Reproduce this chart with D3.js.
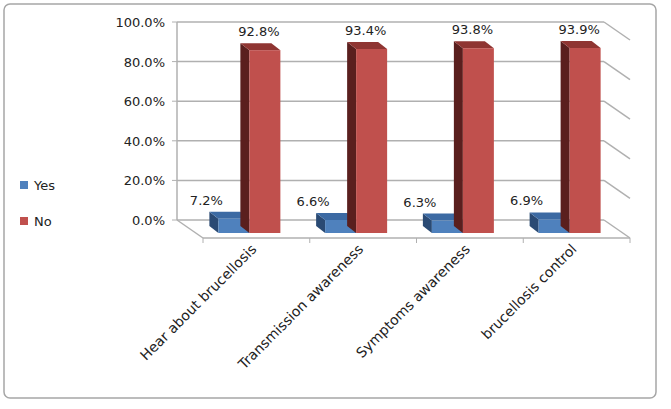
<!DOCTYPE html>
<html><head><meta charset="utf-8">
<script src="https://cdn.jsdelivr.net/npm/d3@7"></script>
<style>body{margin:0;background:#fff;font-family:"DejaVu Sans",sans-serif;}</style>
</head><body><div id="chart"></div>
<script>
var categories = ["Hear about brucellosis","Transmission awareness","Symptoms awareness","brucellosis control"];
var yes = [7.2, 6.6, 6.3, 6.9];
var no = [92.8, 93.4, 93.8, 93.9];
var ticks = [0,20,40,60,80,100];
var series = [{name:"Yes",values:yes,front:"#4f81bd",side:"#2a4a74",top:"#3c6aa3"},
              {name:"No",values:no,front:"#c0504d",side:"#5a1f1e",top:"#8f3532"}];

var W=671,H=409, dx=26, dy=18, bdx=9, bdy=7;
var svg=d3.select('#chart').append('svg').attr('width',W).attr('height',H);
svg.append('rect').attr('x',4).attr('y',4).attr('width',652).attr('height',394)
  .attr('rx',6).attr('fill','#fff').attr('stroke','#a6a6a6').attr('stroke-width',1.5);

// back wall scale
var yBack=d3.scaleLinear().domain([0,100]).range([220,22]);
var x0=177, x1=604;
var x=d3.scaleBand().domain(categories).range([x0+dx,x1+dx]);
var yFront=d3.scaleLinear().domain([0,100]).range([233,36]);

var g=svg.append('g');
ticks.forEach(function(t){
  g.append('line').attr('x1',x0).attr('x2',x1).attr('y1',yBack(t)).attr('y2',yBack(t)).attr('stroke','#b0b0b0').attr('stroke-width',1.5);
  g.append('line').attr('x1',x1).attr('x2',x1+dx).attr('y1',yBack(t)).attr('y2',yBack(t)+dy).attr('stroke','#b0b0b0').attr('stroke-width',1.5);
  g.append('line').attr('x1',x0-5).attr('x2',x0).attr('y1',yBack(t)).attr('y2',yBack(t)).attr('stroke','#b0b0b0');
  g.append('text').attr('x',165).attr('y',yBack(t)+5).attr('text-anchor','end')
    .attr('font-size',13).attr('fill','#222').text(t.toFixed(1)+'%');
});
g.append('line').attr('x1',x0).attr('x2',x0).attr('y1',yBack(100)).attr('y2',yBack(0)).attr('stroke','#b0b0b0').attr('stroke-width',1.5);
g.append('line').attr('x1',x0).attr('x2',x0+dx).attr('y1',yBack(0)).attr('y2',yBack(0)+dy).attr('stroke','#b0b0b0').attr('stroke-width',1.5);
g.append('line').attr('x1',x0+dx).attr('x2',x1+dx).attr('y1',yBack(0)+dy).attr('y2',yBack(0)+dy).attr('stroke','#b0b0b0').attr('stroke-width',1.5);
categories.concat(['end']).forEach(function(c,i){
  var xx = i<categories.length ? x(c) : x1+dx;
  g.append('line').attr('x1',xx).attr('x2',xx).attr('y1',yBack(0)+dy).attr('y2',yBack(0)+dy+5).attr('stroke','#b0b0b0');
});

var bw=31;
categories.forEach(function(c,i){
  var cx=x(c)+x.bandwidth()/2 - 7;
  series.forEach(function(s,k){
    var v=s.values[i], xl=cx-bw+k*bw, xr=xl+bw, yt=yFront(v), yb=yFront(0);
    g.append('polygon').attr('points',[[xl,yt],[xl-bdx,yt-bdy],[xl-bdx,yb-bdy],[xl,yb]].join(' ')).attr('fill',s.side);
    g.append('polygon').attr('points',[[xl,yt],[xl-bdx,yt-bdy],[xr-bdx,yt-bdy],[xr,yt]].join(' ')).attr('fill',s.top);
    g.append('rect').attr('x',xl).attr('y',yt).attr('width',bw).attr('height',yb-yt).attr('fill',s.front);
    g.append('text').attr('x',xl+(k?bw/2-6:-12)).attr('y',yt-14).attr('text-anchor','middle')
      .attr('font-size',13).attr('fill','#222').text(v.toFixed(1)+'%');
  });
  g.append('text').attr('transform','translate('+(cx+8)+','+(250)+') rotate(-45)')
    .attr('text-anchor','end').attr('font-size',14).attr('fill','#222').text(c);
});

series.forEach(function(s,k){
  svg.append('rect').attr('x',20).attr('y',181+k*36).attr('width',8).attr('height',8).attr('fill',s.front);
  svg.append('text').attr('x',34).attr('y',190+k*36).attr('font-size',13).attr('fill','#222').text(s.name);
});
</script></body></html>
